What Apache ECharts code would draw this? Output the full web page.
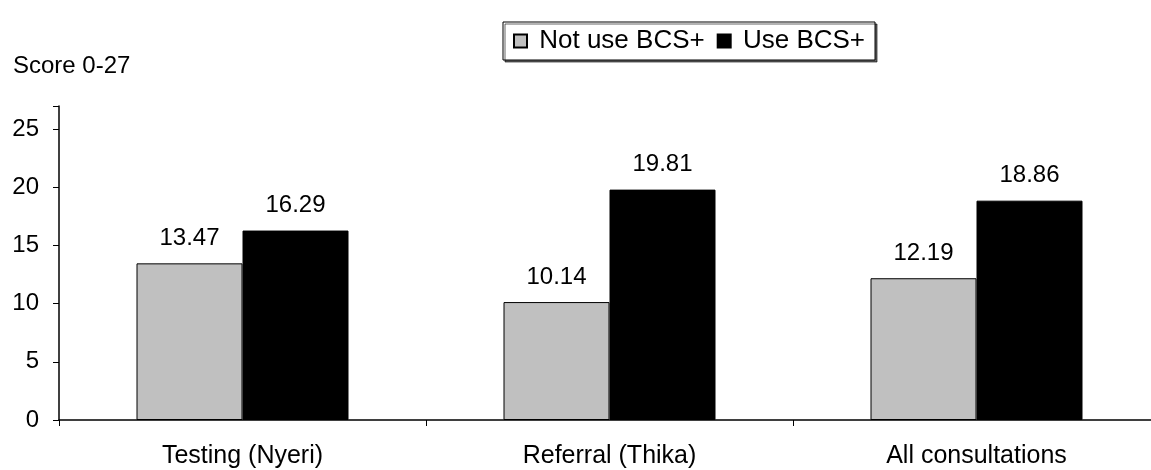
<!DOCTYPE html>
<html>
<head>
<meta charset="utf-8">
<script src="https://cdn.jsdelivr.net/npm/echarts@6/dist/echarts.min.js"></script>
<style>
  html, body { margin: 0; padding: 0; background: #fff; overflow: hidden; }
  #chart { width: 1162px; height: 470px; }
</style>
</head>
<body>
<div id="chart"></div>
<script>
  var categories = ["Testing (Nyeri)", "Referral (Thika)", "All consultations"];
  var notUse = [13.47, 10.14, 12.19];
  var useBcs = [16.29, 19.81, 18.86];
  var yTicks = [0, 5, 10, 15, 20, 25];

  var FONT = "Liberation Sans, Arial, sans-serif";

  // the plot runs past the right edge of the window, as in the source
  var chart = echarts.init(document.getElementById("chart"), null, { renderer: "canvas" });

  var labelStyle = {
    show: true,
    position: "top",
    distance: 13,
    color: "#000",
    fontSize: 24,
    fontFamily: FONT,
    formatter: function (p) { return p.value.toFixed(2); }
  };

  chart.setOption({
    backgroundColor: "#fff",
    animation: false,
    textStyle: { fontFamily: FONT, color: "#000" },
    title: {
      text: "Score 0-27",
      left: 8,
      top: 49,
      textStyle: { fontSize: 24, fontWeight: "normal", color: "#000", fontFamily: FONT }
    },
    legend: {
      top: 22,
      left: 503,
      padding: [6, 10, 6, 10],
      itemWidth: 13,
      itemHeight: 13,
      itemGap: 12,
      backgroundColor: "#fff",
      borderColor: "#000",
      borderWidth: 1,
      borderRadius: 0,
      shadowColor: "rgba(0,0,0,0.6)",
      shadowOffsetX: 2,
      shadowOffsetY: 2,
      textStyle: { fontSize: 26, color: "#000", fontFamily: FONT },
      formatter: function (name) { return " " + name; },
      data: [
        { name: "Not use BCS+", icon: "rect" },
        { name: "Use BCS+", icon: "rect" }
      ]
    },
    grid: { left: 59, right: 2, top: 106, height: 314 },
    xAxis: {
      type: "category",
      data: categories,
      axisLine: { lineStyle: { color: "#000", width: 1.5 } },
      axisTick: { show: true, length: 6, lineStyle: { color: "#000" } },
      axisLabel: { fontSize: 25, color: "#000", margin: 24, fontFamily: FONT }
    },
    yAxis: {
      type: "value",
      min: 0,
      max: 27,
      interval: 5,
      axisLine: { show: true, lineStyle: { color: "#000", width: 1.5 } },
      axisTick: { show: true, length: 6, lineStyle: { color: "#000" } },
      splitLine: { show: false },
      axisLabel: {
        fontSize: 24,
        color: "#000",
        margin: 20,
        fontFamily: FONT,
        formatter: function (v) { return yTicks.indexOf(v) >= 0 ? String(v) : ""; }
      }
    },
    series: [
      {
        name: "Not use BCS+",
        type: "bar",
        data: notUse,
        barWidth: 106,
        barGap: "0%",
        itemStyle: { color: "#c0c0c0", borderColor: "#000", borderWidth: 1 },
        label: labelStyle
      },
      {
        name: "Use BCS+",
        type: "bar",
        data: useBcs,
        barWidth: 106,
        barGap: "0%",
        itemStyle: { color: "#000", borderColor: "#000", borderWidth: 1 },
        label: labelStyle
      }
    ]
  });
</script>
</body>
</html>
